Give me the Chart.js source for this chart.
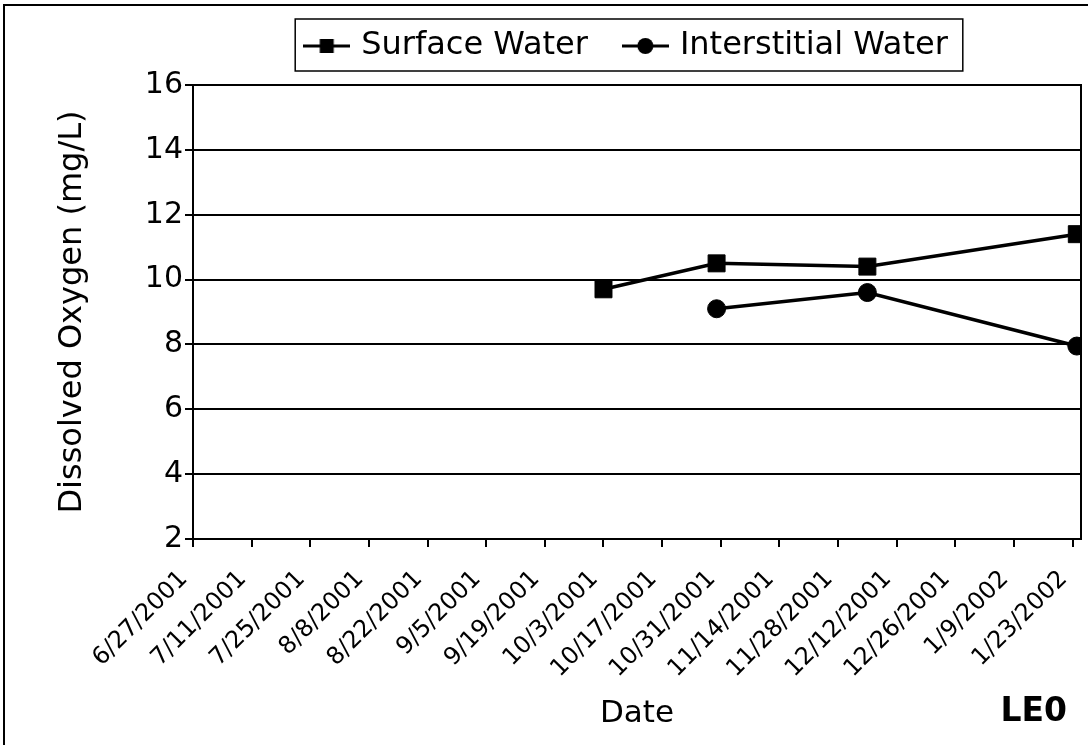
<!DOCTYPE html>
<html>
<head>
<meta charset="utf-8">
<title>Dissolved Oxygen - LE0</title>
<script src="https://cdn.jsdelivr.net/npm/chart.js@4.4.1/dist/chart.umd.min.js"></script>
<style>
  html, body { margin: 0; padding: 0; background: #ffffff; }
  #wrap { width: 1088px; height: 745px; position: relative; }
</style>
</head>
<body>
<div id="wrap"><canvas id="chart" width="1088" height="745"></canvas></div>
<script>
// Sampling dates and dissolved oxygen readings (mg/L)
const startDate = '2001-06-27';
const endDate = '2002-01-25';
const tickLabels = ['6/27/2001', '7/11/2001', '7/25/2001', '8/8/2001', '8/22/2001', '9/5/2001',
  '9/19/2001', '10/3/2001', '10/17/2001', '10/31/2001', '11/14/2001', '11/28/2001',
  '12/12/2001', '12/26/2001', '1/9/2002', '1/23/2002'];
const surfaceDates = ['2001-10-03', '2001-10-30', '2001-12-05', '2002-01-24'];
const surfaceValues = [9.7, 10.5, 10.4, 11.4];
const interstitialDates = ['2001-10-30', '2001-12-05', '2002-01-24'];
const interstitialValues = [9.1, 9.6, 7.95];
const yMin = 2, yMax = 16, yStep = 2;
const siteLabel = 'LE0';

const DAY_MS = 86400000;
function isoDay(s) {
  const [y, m, d] = s.split('-').map(Number);
  const [y0, m0, d0] = startDate.split('-').map(Number);
  return (Date.UTC(y, m - 1, d) - Date.UTC(y0, m0 - 1, d0)) / DAY_MS;
}
function usDay(s) {
  const [m, d, y] = s.split('/').map(Number);
  return isoDay(y + '-' + m + '-' + d);
}
const tickDays = tickLabels.map(usDay);
const toPoints = (dates, vals) => dates.map((d, i) => ({ x: isoDay(d), y: vals[i] }));

// Legend symbols: a short line with the series marker in the middle
function legendSymbol(kind) {
  const c = document.createElement('canvas');
  c.width = 47; c.height = 22;
  const g = c.getContext('2d');
  g.strokeStyle = '#000'; g.lineWidth = 3;
  g.beginPath(); g.moveTo(0, 11); g.lineTo(47, 11); g.stroke();
  g.fillStyle = '#000';
  if (kind === 'rect') {
    g.fillRect(23.5 - 7, 11 - 7, 14, 14);
  } else {
    g.beginPath(); g.arc(23.5, 11, 8, 0, Math.PI * 2); g.fill();
  }
  return c;
}
const symbols = [legendSymbol('rect'), legendSymbol('circle')];

Chart.defaults.font.family = "'DejaVu Sans', Verdana, sans-serif";
Chart.defaults.color = '#000';

// nudge the legend a little left of the plot-area centre
const legendShift = {
  id: 'legendShift',
  afterLayout(chart) {
    const lg = chart.legend;
    if (lg) { lg.left -= 9; lg.right -= 9; }
  }
};

const framePlugin = {
  id: 'frames',
  afterDraw(chart) {
    const ctx = chart.ctx;
    const a = chart.chartArea;
    ctx.save();
    ctx.strokeStyle = '#000';
    // outer chart frame
    ctx.lineWidth = 2;
    ctx.strokeRect(4, 5, 1200, 900);
    // plot area border
    ctx.strokeRect(a.left, a.top, a.right - a.left, a.bottom - a.top);
    // legend box
    const hb = chart.legend.legendHitBoxes;
    if (hb && hb.length) {
      const first = hb[0], last = hb[hb.length - 1];
      const cy = first.top + first.height / 2;
      const left = first.left - 13;
      const right = last.left + last.width + 15;
      ctx.lineWidth = 1.5;
      ctx.strokeRect(left, cy - 27, right - left, 52);
    }
    // site label
    ctx.fillStyle = '#000';
    ctx.font = "bold 33px 'DejaVu Sans', Verdana, sans-serif";
    ctx.textAlign = 'right';
    ctx.textBaseline = 'alphabetic';
    ctx.fillText(siteLabel, 1067, 721);
    ctx.restore();
  }
};

new Chart(document.getElementById('chart'), {
  type: 'line',
  data: {
    datasets: [
      {
        label: 'Surface Water',
        data: toPoints(surfaceDates, surfaceValues),
        borderColor: '#000',
        backgroundColor: '#000',
        borderWidth: 3.5,
        pointStyle: 'rect',
        pointRadius: 12,
        pointBorderWidth: 1,
        pointBackgroundColor: '#000',
        pointBorderColor: '#000',
        tension: 0
      },
      {
        label: 'Interstitial Water',
        data: toPoints(interstitialDates, interstitialValues),
        borderColor: '#000',
        backgroundColor: '#000',
        borderWidth: 3.5,
        pointStyle: 'circle',
        pointRadius: 9,
        pointBorderWidth: 1,
        pointBackgroundColor: '#000',
        pointBorderColor: '#000',
        tension: 0
      }
    ]
  },
  options: {
    responsive: false,
    animation: false,
    layout: { autoPadding: false, padding: { left: 10, right: 7, top: -9, bottom: 0 } },
    plugins: {
      tooltip: { enabled: false },
      legend: {
        display: true,
        position: 'top',
        fullSize: false,
        labels: {
          usePointStyle: true,
          pointStyleWidth: 37,
          padding: 39,
          color: '#000',
          font: { size: 32 },
          generateLabels(chart) {
            const items = Chart.defaults.plugins.legend.labels.generateLabels(chart);
            items.forEach((it, i) => { it.pointStyle = symbols[i]; });
            return items;
          }
        }
      },
      subtitle: {
        display: true,
        text: '',
        weight: 500,
        padding: 0,
        font: { size: 13, lineHeight: 1 }
      }
    },
    scales: {
      x: {
        type: 'linear',
        min: 0,
        max: isoDay(endDate),
        afterBuildTicks(scale) { scale.ticks = tickDays.map(v => ({ value: v })); },
        afterFit(scale) { scale.height = 206; scale.paddingRight = 0; },
        ticks: {
          autoSkip: false,
          minRotation: 45,
          maxRotation: 45,
          padding: 18,
          labelOffset: -9,
          color: '#000',
          font: { size: 24 },
          callback(value, index) { return tickLabels[index]; }
        },
        grid: {
          drawOnChartArea: false,
          drawTicks: true,
          tickLength: 8,
          color: '#000',
          lineWidth: 2
        },
        border: { display: true, color: '#000', width: 2 },
        title: {
          display: true,
          text: 'Date',
          color: '#000',
          font: { size: 31 },
          padding: { top: 0, bottom: 12 }
        }
      },
      y: {
        min: yMin,
        max: yMax,
        afterFit(scale) { scale.width = 183; },
        ticks: {
          stepSize: yStep,
          padding: 2,
          color: '#000',
          font: { size: 30 }
        },
        grid: {
          color: '#000',
          lineWidth: 2,
          tickLength: 8
        },
        border: { display: true, color: '#000', width: 2 },
        title: {
          display: true,
          text: 'Dissolved Oxygen (mg/L)',
          color: '#000',
          font: { size: 32 },
          padding: { top: 43, bottom: 0 }
        }
      }
    }
  },
  plugins: [legendShift, framePlugin]
});
</script>
</body>
</html>
